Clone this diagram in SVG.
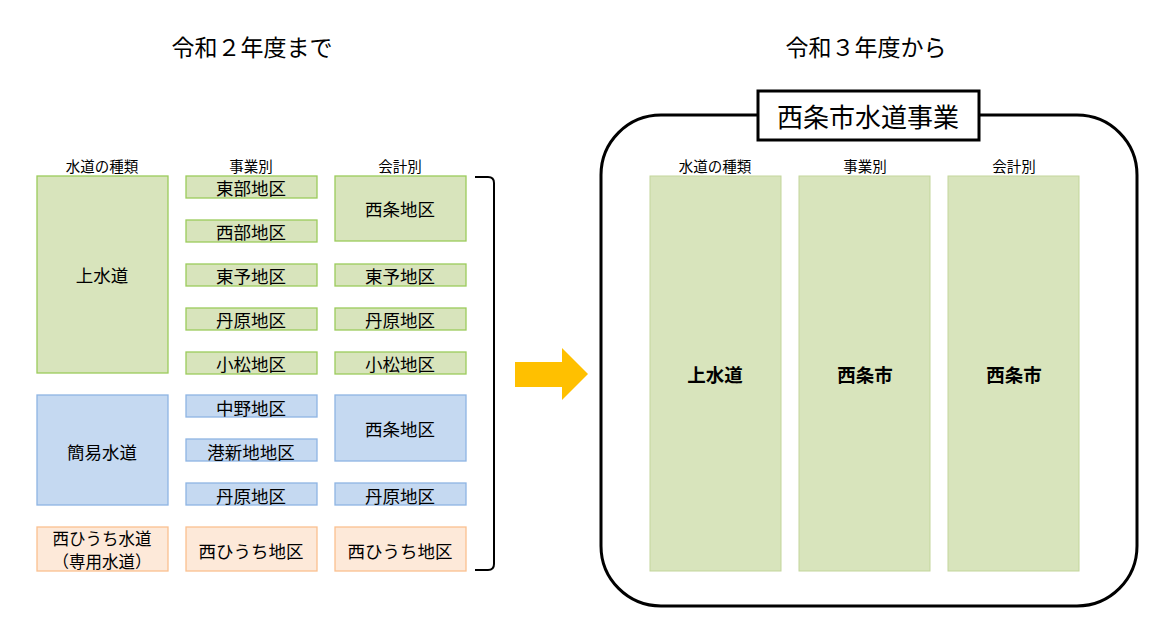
<svg xmlns="http://www.w3.org/2000/svg" width="1173" height="629" viewBox="0 0 1173 629">
<style>
text{font-family:"Noto Sans CJK JP","Noto Sans CJK SC",sans-serif;fill:#000;text-anchor:middle;dominant-baseline:central}
.g{fill:#D8E4BC;stroke:#9BCB5B;stroke-width:1.3}
.g2{fill:#D8E4BC;stroke:#C3D69B;stroke-width:1}
.b{fill:#C5D9F1;stroke:#8EB4E3;stroke-width:1.3}
.o{fill:#FDE9D9;stroke:#FAC090;stroke-width:1.3}
.t{font-size:17.5px}
.s{font-size:16.5px}
.h{font-size:14.5px}
.ti{font-size:23px}
.bd{font-size:18.5px;font-weight:bold}
</style>
<rect width="1173" height="629" fill="#fff"/>
<text class="ti" x="252" y="46">令和２年度まで</text>
<text class="ti" x="866" y="46">令和３年度から</text>
<g id="headers-left">
<text class="h" x="102" y="165">水道の種類</text>
<text class="h" x="251" y="165">事業別</text>
<text class="h" x="400" y="165">会計別</text>
</g>
<g id="n-josuido"><rect class="g" x="37" y="176" width="131" height="197"/><text class="t" x="102" y="274">上水道</text></g>
<g id="n-tobu"><rect class="g" x="186" y="176" width="131" height="22"/><text class="t" x="251" y="187">東部地区</text></g>
<g id="n-seibu"><rect class="g" x="186" y="220" width="131" height="22"/><text class="t" x="251" y="231">西部地区</text></g>
<g id="n-toyo"><rect class="g" x="186" y="264" width="131" height="22"/><text class="t" x="251" y="275">東予地区</text></g>
<g id="n-tanbara"><rect class="g" x="186" y="308" width="131" height="22"/><text class="t" x="251" y="319">丹原地区</text></g>
<g id="n-komatsu"><rect class="g" x="186" y="352" width="131" height="22"/><text class="t" x="251" y="363">小松地区</text></g>
<g id="a-saijo"><rect class="g" x="335" y="176" width="131" height="65"/><text class="t" x="400" y="208">西条地区</text></g>
<g id="a-toyo"><rect class="g" x="335" y="264" width="131" height="22"/><text class="t" x="400" y="275">東予地区</text></g>
<g id="a-tanbara"><rect class="g" x="335" y="308" width="131" height="22"/><text class="t" x="400" y="319">丹原地区</text></g>
<g id="a-komatsu"><rect class="g" x="335" y="352" width="131" height="22"/><text class="t" x="400" y="363">小松地区</text></g>
<g id="n-kani"><rect class="b" x="37" y="395" width="131" height="110"/><text class="t" x="102" y="451">簡易水道</text></g>
<g id="n-nakano"><rect class="b" x="186" y="395" width="131" height="22"/><text class="t" x="251" y="407">中野地区</text></g>
<g id="n-minato"><rect class="b" x="186" y="439" width="131" height="22"/><text class="t" x="251" y="451">港新地地区</text></g>
<g id="n-tanbara2"><rect class="b" x="186" y="483" width="131" height="22"/><text class="t" x="251" y="495">丹原地区</text></g>
<g id="a-saijo2"><rect class="b" x="335" y="395" width="131" height="66"/><text class="t" x="400" y="428">西条地区</text></g>
<g id="a-tanbara2"><rect class="b" x="335" y="483" width="131" height="22"/><text class="t" x="400" y="495">丹原地区</text></g>
<g id="n-nishihiuchi"><rect class="o" x="37" y="527" width="131" height="44"/><text class="s" x="102" y="538">西ひうち水道</text><text class="s" x="102" y="561">（専用水道）</text></g>
<g id="n-nishihiuchi2"><rect class="o" x="186" y="527" width="131" height="44"/><text class="t" x="251" y="550">西ひうち地区</text></g>
<g id="a-nishihiuchi"><rect class="o" x="335" y="527" width="131" height="44"/><text class="t" x="400" y="550">西ひうち地区</text></g>
<g id="connectors">
<path d="M475 177 L488 177 Q494 177 494 183 L494 564 Q494 570 488 570 L475 570" fill="none" stroke="#000" stroke-width="2"/>
<path d="M515 362 L562 362 L562 348 L588 374 L562 400 L562 387 L515 387 Z" fill="#FFC000"/>
</g>
<g id="saijo-city">
<rect x="601" y="115" width="536" height="491" rx="60" ry="60" fill="#fff" stroke="#000" stroke-width="3"/>
<rect x="758" y="91" width="221" height="49" fill="#fff" stroke="#000" stroke-width="3"/>
<text x="868" y="115" style="font-size:26px">西条市水道事業</text>
<text class="h" x="715" y="165">水道の種類</text>
<text class="h" x="865" y="165">事業別</text>
<text class="h" x="1014" y="165">会計別</text>
</g>
<g id="r-josuido"><rect class="g2" x="650" y="176" width="131" height="395"/><text class="bd" x="715" y="374">上水道</text></g>
<g id="r-jigyo"><rect class="g2" x="799" y="176" width="131" height="395"/><text class="bd" x="865" y="374">西条市</text></g>
<g id="r-kaikei"><rect class="g2" x="948" y="176" width="131" height="395"/><text class="bd" x="1014" y="374">西条市</text></g>
</svg>
